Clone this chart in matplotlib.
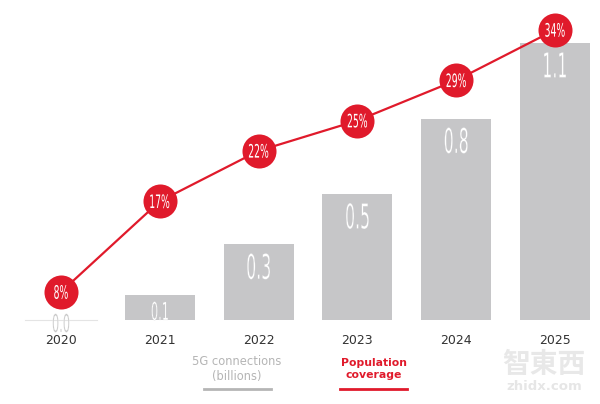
import matplotlib
matplotlib.use("Agg")
import matplotlib.pyplot as plt
import matplotlib.transforms as mtransforms
from matplotlib.textpath import TextPath
from matplotlib.patches import PathPatch
from matplotlib.font_manager import FontProperties
import numpy as np

# data
years = ["2020", "2021", "2022", "2023", "2024", "2025"]
connections = [0.0, 0.1, 0.3, 0.5, 0.8, 1.1]   # 5G connections, billions
coverage = [8, 17, 22, 25, 29, 34]              # population coverage, %
bar_labels = ["0.0", "0.1", "0.3", "0.5", "0.8", "1.1"]
cov_labels = [f"{c}%" for c in coverage]

RED = "#e01a2b"
BARC = "#c6c6c8"
FP = FontProperties(family="DejaVu Sans")


def narrow_text(a, x, y, s, digit_px, sx, color, bg, lw=0.0, z=5):
    # condensed thin look: DejaVu glyphs squeezed horizontally,
    # edge in background colour thins the strokes a bit
    size = digit_px / 0.729
    tp = TextPath((0, 0), s, size=size, prop=FP)
    bb = tp.get_extents()
    tr = (mtransforms.Affine2D()
          .translate(-(bb.x0 + bb.x1) / 2, -digit_px / 2)
          .scale(sx, 1)
          + mtransforms.ScaledTranslation(x, y, a.transData))
    p = PathPatch(tp, transform=tr, facecolor=color,
                  edgecolor=bg if lw > 0 else "none", lw=lw,
                  zorder=z, clip_on=False)
    a.add_artist(p)


fig = plt.figure(figsize=(6, 4.04), dpi=100)
ax = fig.add_axes([0, 0, 1, 1])
ax2 = ax.twinx()

x = np.arange(len(years))
# map data to pixel layout of the reference
ax.set_xlim(-61 / 98.8, (600 - 61) / 98.8)
ax.set_ylim(-84 / 251.8, (404 - 84) / 251.8)
ax2.set_ylim(-31.4 / 10.08, (404 - 31.4) / 10.08)

ax.bar(x, connections, width=0.71, color=BARC, zorder=1)
for xi, v, lab in zip(x, connections, bar_labels):
    if v == 0:
        ax.plot([xi - 0.36, xi + 0.36], [0, 0], color="#e4e4e4", lw=0.8, zorder=1)
        narrow_text(ax, xi, -0.012, lab, 18, 0.46, "#c8c8c8", "white", lw=0.15)
    elif v < 0.2:
        narrow_text(ax, xi, 0.036, lab, 18, 0.46, "white", BARC, lw=0.15)
    else:
        narrow_text(ax, xi, v - 0.087, lab, 25, 0.46, "white", BARC, lw=0.2)

for xi, y in zip(x, years):
    ax.text(xi, -0.08, y, ha="center", va="center", color="#333333", fontsize=9)

ax2.plot(x, coverage, color=RED, lw=1.6, zorder=3)
ax2.plot(x, coverage, "o", color=RED, markersize=24.5, markeredgewidth=0, zorder=4)
for xi, c, lab in zip(x, coverage, cov_labels):
    narrow_text(ax2, xi, c, lab, 13.5, 0.5, "white", RED, z=6)

# legend
fig.text(237 / 600, 1 - 369 / 404, "5G connections\n(billions)", ha="center", va="center",
         color="#b5b5b5", fontsize=8.3, linespacing=1.25)
fig.text(374 / 600, 1 - 369 / 404, "Population\ncoverage", ha="center", va="center",
         color=RED, fontsize=7.8, fontweight="bold", linespacing=1.25)
fig.add_artist(plt.Line2D([204 / 600, 271 / 600], [1 - 389 / 404] * 2, color="#b5b5b5", lw=2))
fig.add_artist(plt.Line2D([340 / 600, 407 / 600], [1 - 389 / 404] * 2, color=RED, lw=2))

# watermark
fig.text(544 / 600, 1 - 365 / 404, "智東西", ha="center", va="center", color="#e8e8e8",
         fontsize=20, family=["Noto Sans CJK TC", "DejaVu Sans"], fontweight="bold")
fig.text(544 / 600, 1 - 387 / 404, "zhidx.com", ha="center", va="center", color="#e6e6e6",
         fontsize=9.5, fontweight="bold")

for a in (ax, ax2):
    a.axis("off")

fig.savefig("out.png", dpi=100, facecolor="white")
